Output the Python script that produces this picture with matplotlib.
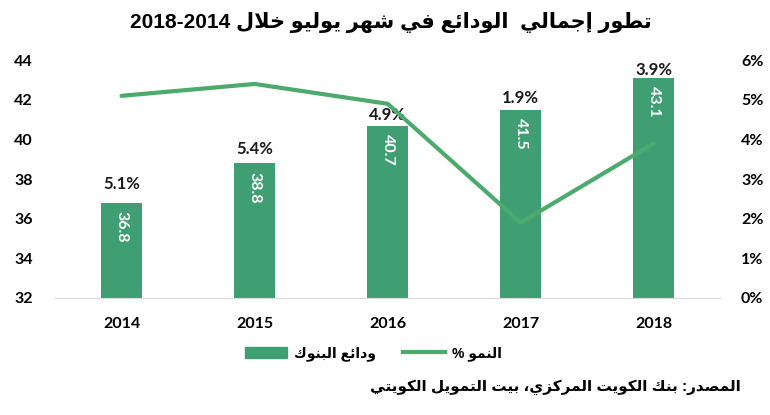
import re
import matplotlib
matplotlib.use("Agg")
import matplotlib.pyplot as plt
from matplotlib.lines import Line2D
from matplotlib.patches import Patch
from matplotlib.ticker import FuncFormatter

years = ["2014", "2015", "2016", "2017", "2018"]
deposits = [36.8, 38.8, 40.7, 41.5, 43.1]
growth = [5.1, 5.4, 4.9, 1.9, 3.9]

title_text = "تطور إجمالي  الودائع في شهر يوليو خلال 2018-2014"
bar_legend = "ودائع البنوك"
line_legend = "النمو %"
source_text = "المصدر: بنك الكويت المركزي، بيت التمويل الكويتي"

BAR_COLOR = "#3f9f72"
LINE_COLOR = "#4caa6c"

# --- minimal arabic shaping (matplotlib has no complex text layout) ---
DUAL = {"ب": 0xFE8F, "ت": 0xFE95, "ث": 0xFE99, "ج": 0xFE9D, "ح": 0xFEA1,
        "خ": 0xFEA5, "س": 0xFEB1, "ش": 0xFEB5, "ص": 0xFEB9, "ض": 0xFEBD,
        "ط": 0xFEC1, "ظ": 0xFEC5, "ع": 0xFEC9, "غ": 0xFECD, "ف": 0xFED1,
        "ق": 0xFED5, "ك": 0xFED9, "ل": 0xFEDD, "م": 0xFEE1, "ن": 0xFEE5,
        "ه": 0xFEE9, "ي": 0xFEF1, "ئ": 0xFE89}
RIGHT = {"ا": 0xFE8D, "أ": 0xFE83, "إ": 0xFE87, "آ": 0xFE81, "د": 0xFEA9,
         "ذ": 0xFEAB, "ر": 0xFEAD, "ز": 0xFEAF, "و": 0xFEED, "ؤ": 0xFE85,
         "ة": 0xFE93, "ى": 0xFEEF}
LAMALEF = {"ا": 0xFEFB, "أ": 0xFEF7, "إ": 0xFEF9, "آ": 0xFEF5}


def kind(t):
    if isinstance(t, tuple):
        return "R"
    if t in DUAL:
        return "D"
    if t in RIGHT:
        return "R"
    return None


def ar(s):
    toks = []
    i = 0
    while i < len(s):
        c = s[i]
        if c == "ل" and i + 1 < len(s) and s[i + 1] in LAMALEF:
            toks.append(("LA", LAMALEF[s[i + 1]]))
            i += 2
            continue
        toks.append(c)
        i += 1
    out = []
    for k, t in enumerate(toks):
        kd = kind(t)
        if kd is None:
            out.append(t)
            continue
        p = toks[k - 1] if k > 0 else None
        n = toks[k + 1] if k + 1 < len(toks) else None
        jp = p is not None and kind(p) == "D"
        jn = kd == "D" and n is not None and kind(n) in ("D", "R")
        if isinstance(t, tuple):
            base = t[1]
        elif kd == "D":
            base = DUAL[t]
        else:
            base = RIGHT[t]
        if kd == "D":
            off = 3 if (jp and jn) else 2 if jn else 1 if jp else 0
        else:
            off = 1 if jp else 0
        out.append(chr(base + off))
    vis = "".join(out)[::-1]
    return re.sub(r"[0-9][0-9.\-]*[0-9]", lambda m: m.group(0)[::-1], vis)


fam = ["Liberation Sans", "DejaVu Sans"]
tick_fam = ["Lato", "DejaVu Sans"]

fig = plt.figure(figsize=(7.7, 4.15), dpi=100)
ax = fig.add_axes([0.0714, 0.282, 0.864, 0.573])
ax2 = ax.twinx()

x = list(range(len(years)))
bars = ax.bar(x, deposits, width=0.31, color=BAR_COLOR, zorder=2)
ax.set_ylim(32, 44)
ax.set_xlim(-0.5, 4.5)
ax.set_yticks([32, 34, 36, 38, 40, 42, 44])
ax.set_xticks(x)
ax.set_xticklabels(years)

ax2.plot(x, growth, color=LINE_COLOR, lw=3, solid_capstyle="round", zorder=3)
ax2.set_ylim(0, 6)
ax2.set_yticks(range(0, 7))
ax2.yaxis.set_major_formatter(FuncFormatter(lambda v, _: f"{v:.0f}%"))

for a in (ax, ax2):
    for side in ("top", "left", "right"):
        a.spines[side].set_visible(False)
    a.tick_params(length=0, labelsize=11.5)
    for lab in a.get_xticklabels() + a.get_yticklabels():
        lab.set_fontfamily(tick_fam)
        lab.set_fontweight("bold")
ax.spines["bottom"].set_color("#d9d9d9")
ax2.spines["bottom"].set_visible(False)
ax.tick_params(axis="y", pad=16)
ax2.tick_params(axis="y", pad=15)
ax.tick_params(axis="x", pad=14)

# values inside the bars
for xi, v in zip(x, deposits):
    ax.annotate(f"{v:.1f}", (xi, v), xytext=(0, -6), textcoords="offset points",
                ha="center", va="top", rotation=-90, color="white",
                fontsize=11.5, fontweight="bold", family=tick_fam, zorder=4)

# growth labels above the bars
label_lift = [7.5, 4.5, 1.5, 2.5, 0]
for xi, v, g, lift in zip(x, deposits, growth, label_lift):
    ax.annotate(f"{g:.1f}%", (xi, v), xytext=(0, lift), textcoords="offset points",
                ha="center", va="bottom", color="#1a1a1a",
                fontsize=12, fontweight="bold", family=tick_fam, zorder=4)

fig.text(0.508, 0.945, ar(title_text), ha="center", va="center",
         fontsize=15, fontweight="bold", family=fam)

handles = [Patch(color=BAR_COLOR), Line2D([], [], color=LINE_COLOR, lw=3)]
fig.legend(handles, [ar(bar_legend), ar(line_legend)], loc="center",
           bbox_to_anchor=(0.485, 0.148), ncol=2, frameon=False,
           prop={"family": fam, "weight": "bold", "size": 10},
           handlelength=3.0, handleheight=0.9, columnspacing=2.0, handletextpad=0.5)

fig.text(0.962, 0.068, ar(source_text), ha="right", va="center",
         fontsize=11, fontweight="bold", family=fam)

fig.savefig("out.png", dpi=100)
